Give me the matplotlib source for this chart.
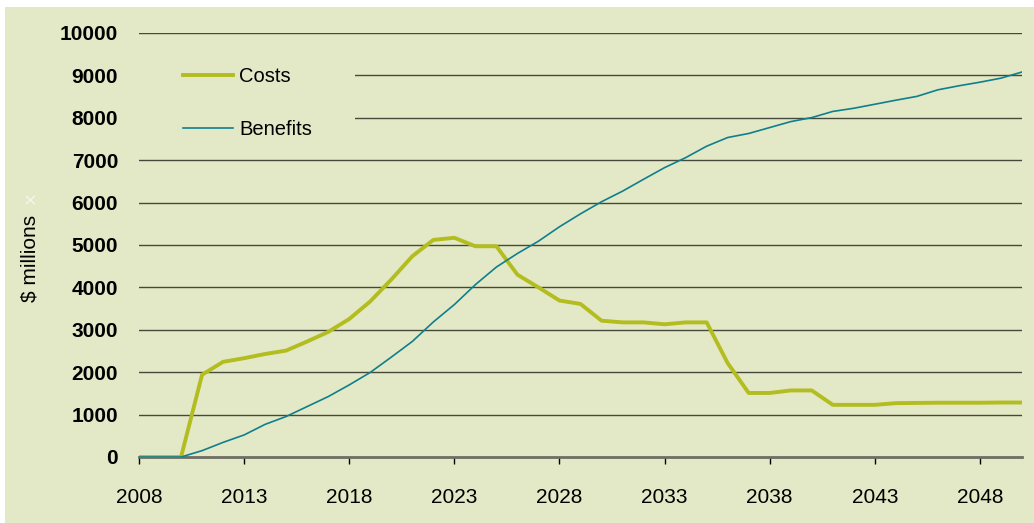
import matplotlib.pyplot as plt
from matplotlib.patches import Rectangle

years = list(range(2008, 2051))
costs = [0, 0, 0, 1940, 2245, 2330, 2430, 2510, 2725, 2950,
         3255, 3670, 4185, 4735, 5120, 5170, 4970, 4970, 4300, 4000,
         3690, 3610, 3215, 3175, 3175, 3130, 3175, 3175, 2215, 1510,
         1510, 1570, 1570, 1230, 1230, 1230, 1270, 1275, 1280, 1280,
         1280, 1285, 1285]
benefits = [0, 0, 0, 150, 345, 520, 770, 955, 1190, 1425,
            1700, 1995, 2355, 2725, 3185, 3595, 4065, 4480, 4800, 5090,
            5430, 5735, 6020, 6270, 6550, 6825, 7060, 7330, 7535, 7630,
            7770, 7910, 8005, 8150, 8225, 8320, 8415, 8505, 8660, 8755,
            8840, 8935, 9080]
x_ticks = list(range(2008, 2050, 5))
y_ticks = list(range(0, 10001, 1000))

bg = '#e3e9c6'
cost_color = '#b3bd1f'
benefit_color = '#0f7f8d'
plt.rcParams['font.family'] = ['Liberation Sans Narrow', 'Liberation Sans', 'DejaVu Sans']

fig = plt.figure(figsize=(10.34, 5.23), dpi=100, facecolor='white')
fig.patches.append(Rectangle((5 / 1034, 0), 1, 1 - 7 / 523, transform=fig.transFigure,
                             facecolor=bg, edgecolor='none', zorder=-10))
ax = fig.add_axes([139 / 1034, 1 - 457 / 523, 883 / 1034, 424 / 523])
ax.set_facecolor(bg)
ax.set_zorder(1)

ax.plot(years, costs, color=cost_color, lw=2.8, label='Costs', zorder=3)
ax.plot(years, benefits, color=benefit_color, lw=1.2, label='Benefits', zorder=4)

ax.set_xlim(2008, 2050)
ax.set_ylim(0, 10000)
ax.set_xticks(x_ticks)
ax.set_yticks(y_ticks)
ax.set_yticklabels([str(v) for v in y_ticks], fontweight='bold', fontsize=15)
ax.set_xticklabels([str(v) for v in x_ticks], fontsize=15)
ax.tick_params(axis='y', length=0, pad=15)
ax.tick_params(axis='x', length=5, width=1, color='black', direction='out', pad=17)
for yv in y_ticks[1:]:
    ax.axhline(yv, color='#45483a', lw=1, zorder=1)
for s in ['top', 'right', 'left']:
    ax.spines[s].set_visible(False)
ax.spines['bottom'].set_color('#6e6e64')
ax.spines['bottom'].set_linewidth(2)
ax.spines['bottom'].set_zorder(2)

# plain box behind the legend hides the gridlines there
ax.add_patch(Rectangle((0, 0.724), 0.2446, 0.248, transform=ax.transAxes,
                       facecolor=bg, edgecolor='none', zorder=1.5))
ax.legend(loc='upper left', bbox_to_anchor=(0.0498, 0.919), frameon=False, fontsize=14.5,
          handlelength=2.5, handletextpad=0.3, labelspacing=1.65,
          borderpad=0, borderaxespad=0)

fig.text(30 / 1034, 1 - 258 / 523, '$ millions', rotation=90, ha='center', va='center', fontsize=15)
fig.text(30 / 1034, 1 - 197 / 523, '\u00d7', rotation=90, ha='center', va='center',
         fontsize=12, color='#f4f6ec', family=['DejaVu Sans'])

fig.savefig('out.png', dpi=100, facecolor='white')
